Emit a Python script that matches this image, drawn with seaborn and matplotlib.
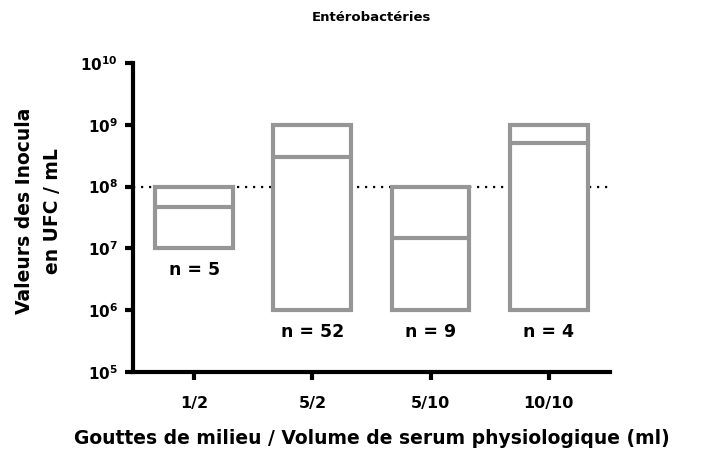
import matplotlib
matplotlib.use('Agg')
import matplotlib.pyplot as plt
import numpy as np
import seaborn as sns

# data
categories = ['1/2', '5/2', '5/10', '10/10']
mins = [1e7, 1e6, 1e6, 1e6]
maxs = [1e8, 1e9, 1e8, 1e9]
medians = [4.6e7, 3.0e8, 1.5e7, 5.0e8]
counts = [5, 52, 9, 4]
threshold = 1e8
yticks = [1e5, 1e6, 1e7, 1e8, 1e9, 1e10]

sns.set_style('ticks')
plt.rcParams['font.family'] = ['DejaVu Sans']
plt.rcParams['font.weight'] = 'bold'
plt.rcParams['mathtext.fontset'] = 'dejavusans'
plt.rcParams['mathtext.default'] = 'bf'
for k in ['text.color', 'axes.labelcolor', 'xtick.color', 'ytick.color']:
    plt.rcParams[k] = 'black'

grey = '#969696'
fig = plt.figure(figsize=(7.24, 4.62), dpi=100)
ax = fig.add_axes([0.1837, 0.1948, 0.6588, 0.6688])

x = np.arange(len(categories))
heights = np.array(maxs) - np.array(mins)
ax.bar(x, heights, bottom=mins, width=0.66, color='white',
       edgecolor=grey, linewidth=3.0, zorder=3)
ax.hlines(medians, x - 0.33, x + 0.33, color=grey, linewidth=3.0, zorder=4)
ax.axhline(threshold, color='black', linestyle=(0, (1, 2.6)), linewidth=1.6, zorder=2)

for xi, lo, n in zip(x, mins, counts):
    ax.annotate('n = %d' % n, (xi, lo), xytext=(0, -15.5), textcoords='offset points',
                ha='center', va='center', fontsize=12.5, fontweight='bold')

ax.set_yscale('log')
ax.set_ylim(1e5, 1e10)
ax.set_xlim(-0.52, 3.52)
ax.set_yticks(yticks)
ax.set_yticklabels([r'$10^{%d}$' % int(np.log10(v)) for v in yticks], fontsize=11)
ax.yaxis.set_minor_locator(matplotlib.ticker.NullLocator())
ax.set_xticks(x)
ax.set_xticklabels(categories, fontsize=11.5, fontweight='bold')
ax.tick_params(axis='both', width=3, length=6, color='black', pad=5)
ax.tick_params(axis='x', pad=11)

sns.despine(ax=ax)
for s in ['left', 'bottom']:
    ax.spines[s].set_linewidth(3)
    ax.spines[s].set_color('black')

ax.text(0.5, 1.146, 'Entérobactéries', transform=ax.transAxes,
        ha='center', va='center', fontsize=9.5, fontweight='bold')
ax.set_ylabel('Valeurs des Inocula\nen UFC / mL', fontsize=13.5, fontweight='bold',
              linespacing=1.55)
ax.yaxis.set_label_coords(-0.198, 0.521)
ax.set_xlabel('Gouttes de milieu / Volume de serum physiologique (ml)',
              fontsize=13.5, fontweight='bold')
ax.xaxis.set_label_coords(0.5, -0.2136)
ax.xaxis.label.set_va('center')
ax.yaxis.label.set_va('center')

fig.savefig('out.png', dpi=100)
